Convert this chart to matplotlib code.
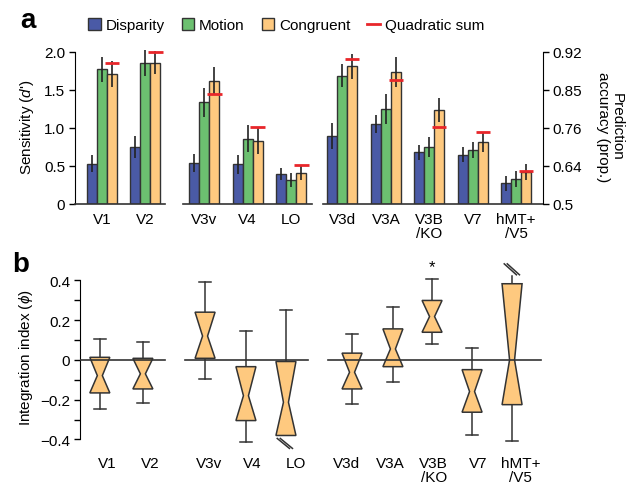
import numpy as np
import matplotlib
matplotlib.use('Agg')
import matplotlib.pyplot as plt
from matplotlib.patches import Patch
from matplotlib.lines import Line2D

plt.rcParams['font.family'] = ['Liberation Sans', 'DejaVu Sans']
plt.rcParams['mathtext.fontset'] = 'custom'
plt.rcParams['mathtext.rm'] = 'Liberation Sans'
plt.rcParams['mathtext.it'] = 'Liberation Sans:italic'
plt.rcParams['font.size'] = 11

# --- data ---
areas = ['V1', 'V2', 'V3v', 'V4', 'LO', 'V3d', 'V3A', 'V3B\n/KO', 'V7', 'hMT+\n/V5']

disparity = [0.53, 0.75, 0.54, 0.52, 0.40, 0.89, 1.05, 0.68, 0.65, 0.27]
motion = [1.77, 1.85, 1.34, 0.86, 0.32, 1.69, 1.25, 0.75, 0.71, 0.33]
congruent = [1.71, 1.86, 1.62, 0.83, 0.41, 1.81, 1.74, 1.24, 0.81, 0.42]
disparity_err = [0.11, 0.14, 0.12, 0.13, 0.08, 0.17, 0.12, 0.10, 0.10, 0.10]
motion_err = [0.17, 0.17, 0.19, 0.18, 0.09, 0.15, 0.20, 0.13, 0.10, 0.11]
congruent_err = [0.17, 0.15, 0.18, 0.17, 0.09, 0.17, 0.20, 0.16, 0.13, 0.10]
quad_sum = [1.85, 2.00, 1.45, 1.01, 0.51, 1.91, 1.63, 1.01, 0.95, 0.43]

acc_ticks = ['0.5', '0.64', '0.76', '0.85', '0.92']

# integration index: upper quartile, median, lower quartile, upper/lower whisker
phi_q3 = [0.013, 0.008, 0.24, -0.034, -0.008, 0.034, 0.156, 0.299, -0.049, 0.383]
phi_med = [-0.079, -0.07, 0.12, -0.18, -0.213, -0.062, 0.055, 0.218, -0.159, 0.0]
phi_q1 = [-0.166, -0.146, 0.008, -0.305, -0.38, -0.146, -0.034, 0.139, -0.263, -0.225]
phi_hi = [0.106, 0.092, 0.39, 0.144, 0.25, 0.131, 0.265, 0.408, 0.06, None]
phi_lo = [-0.247, -0.218, -0.096, -0.414, None, -0.221, -0.112, 0.079, -0.378, -0.408]

# --- layout ---
xa = np.array([0, 1, 2.35, 3.35, 4.35, 5.52, 6.53, 7.52, 8.53, 9.52])
xb = np.array([-0.05, 0.94, 2.37, 3.31, 4.23, 5.75, 6.69, 7.59, 8.51, 9.43])
bw = 0.23

c_disp = '#4a5aa6'
c_mot = '#6cc070'
c_con = '#fec97f'
c_red = '#e8262a'
edge = '#333333'

fig = plt.figure(figsize=(6.38, 4.89), dpi=100)
ax = fig.add_axes([0.1176, 0.5808, 0.7335, 0.3186])

for off, vals, errs, col in [(-bw, disparity, disparity_err, c_disp),
                             (0, motion, motion_err, c_mot),
                             (bw, congruent, congruent_err, c_con)]:
    ax.bar(xa + off, vals, width=bw, color=col, edgecolor=edge, linewidth=1.0, zorder=2)
    ax.errorbar(xa + off, vals, yerr=errs, fmt='none', ecolor='#222222',
                elinewidth=1.2, capsize=0, zorder=3)
ax.hlines(quad_sum, xa + bw - 0.17, xa + bw + 0.17, color=c_red, linewidth=2, zorder=4)

ax.set_xlim(-0.62, 10.14)
ax.set_ylim(0, 2.05)
ax.set_yticks([0, 0.5, 1.0, 1.5, 2.0])
ax.set_yticklabels(['0', '0.5', '1.0', '1.5', '2.0'])
ax.spines['left'].set_bounds(0, 2)
for s in ['top', 'right', 'bottom']:
    ax.spines[s].set_visible(False)
ax.set_xticks(xa)
ax.set_xticklabels(areas, linespacing=1.0)
ax.tick_params(axis='x', length=0, pad=6)
ax.tick_params(axis='y', length=4, width=1, pad=3)
# broken x axis
for x0, x1 in [(-0.62, 1.45), (1.86, 4.83), (5.08, 10.14)]:
    ax.plot([x0, x1], [0, 0], color=edge, linewidth=1.2, clip_on=False, zorder=5)
ax.set_ylabel("Sensitivity ($d$')", labelpad=6)

ax2 = ax.twinx()
ax2.set_ylim(ax.get_ylim())
ax2.set_yticks([0, 0.5, 1.0, 1.5, 2.0])
ax2.set_yticklabels(acc_ticks)
ax2.spines['right'].set_bounds(0, 2)
for s in ['top', 'left', 'bottom']:
    ax2.spines[s].set_visible(False)
ax2.tick_params(axis='y', length=4, width=1, pad=3)
ax2.set_ylabel('Prediction\naccuracy (prop.)', rotation=270, labelpad=30, linespacing=1.0)

handles = [Patch(facecolor=c_disp, edgecolor=edge), Patch(facecolor=c_mot, edgecolor=edge),
           Patch(facecolor=c_con, edgecolor=edge), Line2D([], [], color=c_red, linewidth=2)]
fig.legend(handles, ['Disparity', 'Motion', 'Congruent', 'Quadratic sum'], ncol=4,
           loc='center left', bbox_to_anchor=(88 / 638, 1 - 26 / 489), frameon=False,
           borderpad=0, borderaxespad=0, handlelength=0.85, handleheight=0.85,
           handletextpad=0.3, columnspacing=1.1, fontsize=11)

fig.text(20 / 638, 1 - 28 / 489, 'a', fontsize=20, fontweight='bold')
fig.text(12 / 638, 1 - 272 / 489, 'b', fontsize=20, fontweight='bold')

# --- panel b ---
bx = fig.add_axes([0.1254, 0.0708, 0.7256, 0.3945])
bx.set_xlim(-0.506, 10.14)
bx.set_ylim(-0.47, 0.5)
w = 0.46
nw = 0.25 * w
cap = 0.28
for i in range(len(areas)):
    c = xb[i]
    top, med, bot = phi_q3[i], phi_med[i], phi_q1[i]
    px = [c - w / 2, c + w / 2, c + nw / 2, c + w / 2, c - w / 2, c - nw / 2]
    py = [top, top, med, bot, bot, med]
    bx.fill(px, py, facecolor=c_con, edgecolor=edge, linewidth=1.1, zorder=2)
    if phi_hi[i] is not None:
        bx.plot([c, c], [top, phi_hi[i]], color=edge, linewidth=1.1, zorder=1)
        bx.plot([c - cap / 2, c + cap / 2], [phi_hi[i]] * 2, color=edge, linewidth=1.1)
    else:
        bx.plot([c, c], [top, top + 0.04], color=edge, linewidth=1.1, zorder=1)
        for dx in (0, 0.07):
            bx.plot([c - 0.18 + dx, c + 0.1 + dx], [top + 0.1, top + 0.045],
                    color=edge, linewidth=1.1, clip_on=False)
    if phi_lo[i] is not None:
        bx.plot([c, c], [bot, phi_lo[i]], color=edge, linewidth=1.1, zorder=1)
        bx.plot([c - cap / 2, c + cap / 2], [phi_lo[i]] * 2, color=edge, linewidth=1.1)
    else:
        for dx in (0, 0.07):
            bx.plot([c - 0.2 + dx, c + 0.08 + dx], [bot - 0.015, bot - 0.065],
                    color=edge, linewidth=1.1, clip_on=False)
bx.text(xb[7], 0.43, '*', ha='center', va='bottom', fontsize=12)

for x0, x1 in [(-0.506, 1.45), (1.91, 4.74), (5.2, 10.09)]:
    bx.plot([x0, x1], [0, 0], color=edge, linewidth=1.2, zorder=3)

bx.set_yticks(np.round(np.arange(-0.4, 0.41, 0.1), 2))
bx.set_yticklabels(['\u22120.4', '', '\u22120.2', '', '0', '', '0.2', '', '0.4'])
bx.spines['left'].set_bounds(-0.4, 0.4)
for s in ['top', 'right', 'bottom']:
    bx.spines[s].set_visible(False)
bx.set_xticks(xa + 0.11)
bx.set_xticklabels(areas, linespacing=1.0)
bx.tick_params(axis='x', length=0, pad=2)
bx.tick_params(axis='y', length=4, width=1, pad=3)
bx.set_ylabel('Integration index ($\\phi$)', labelpad=4)

fig.savefig('out.png', dpi=100)
